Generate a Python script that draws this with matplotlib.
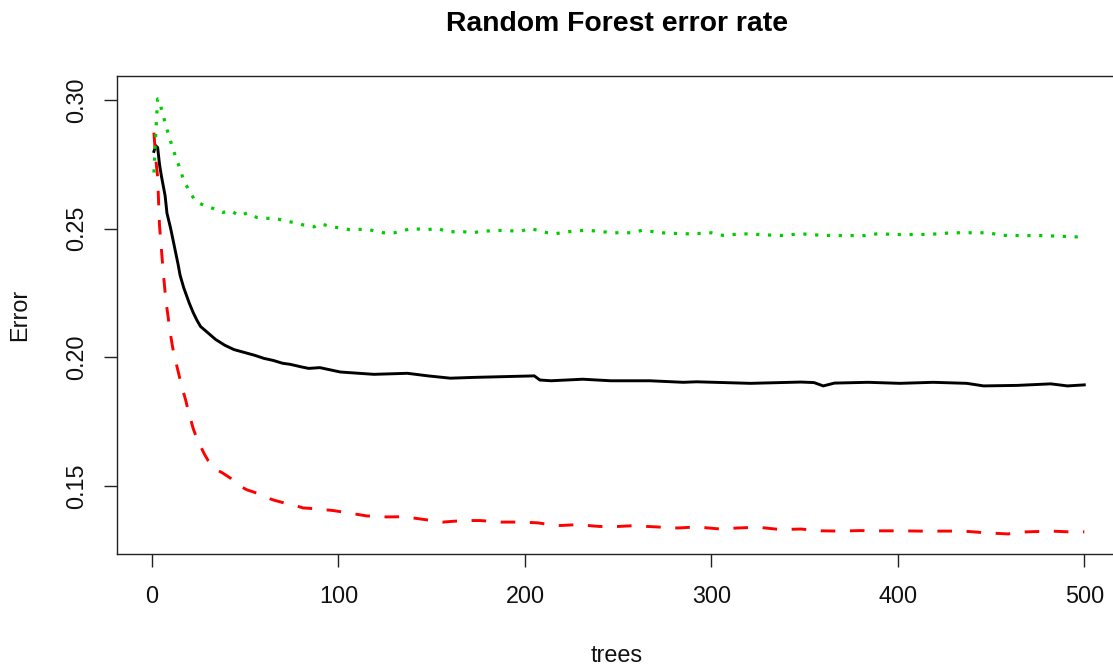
import matplotlib
matplotlib.use("Agg")
import matplotlib.pyplot as plt

# ---- data ----
trees_oob = [1, 2, 3, 4, 5, 7, 8, 10, 12, 14, 15, 17, 20, 22, 24, 26, 30, 34, 39, 44,
             49, 55, 60, 65, 70, 74, 80, 84, 90, 101, 119, 137, 148, 160, 172, 205,
             208, 214, 231, 246, 267, 285, 292, 321, 348, 355, 360, 366, 384, 401,
             419, 437, 446, 464, 482, 491, 500]
err_oob = [0.2800, 0.2822, 0.2815, 0.2750, 0.2705, 0.2628, 0.2560, 0.2500, 0.2430,
           0.2360, 0.2320, 0.2270, 0.2210, 0.2175, 0.2145, 0.2120, 0.2095, 0.2070,
           0.2047, 0.2030, 0.2020, 0.2008, 0.1996, 0.1988, 0.1977, 0.1973, 0.1963,
           0.1957, 0.1960, 0.1943, 0.1934, 0.1938, 0.1928, 0.1919, 0.1922, 0.1928,
           0.1912, 0.1909, 0.1915, 0.1909, 0.1909, 0.1903, 0.1905, 0.1899, 0.1904,
           0.1902, 0.1889, 0.1900, 0.1903, 0.1899, 0.1903, 0.1899, 0.1889, 0.1891,
           0.1897, 0.1889, 0.1893]

trees_c1 = [1, 2, 3, 4, 5, 6, 7, 8, 9, 10, 11, 12, 14, 15, 16, 18, 19, 22, 24, 28, 30,
            35, 38, 42, 46, 51, 56, 60, 65, 71, 76, 81, 87, 97, 106, 115, 126, 135,
            146, 156, 167, 176, 187, 198, 207, 217, 228, 240, 250, 258, 271, 282,
            292, 305, 314, 325, 337, 348, 359, 369, 380, 390, 401, 412, 424, 435,
            448, 459, 469, 482, 492, 500]
err_c1 = [0.2873, 0.2770, 0.2700, 0.2512, 0.2422, 0.2331, 0.2253, 0.2190, 0.2137,
          0.2085, 0.2040, 0.2005, 0.1945, 0.1915, 0.1885, 0.1835, 0.1805, 0.1725,
          0.1685, 0.1625, 0.1600, 0.1562, 0.1550, 0.1531, 0.1504, 0.1485, 0.1473,
          0.1459, 0.1446, 0.1434, 0.1426, 0.1415, 0.1412, 0.1405, 0.1395, 0.1384,
          0.1380, 0.1381, 0.1370, 0.1360, 0.1366, 0.1366, 0.1360, 0.1360, 0.1357,
          0.1346, 0.1350, 0.1343, 0.1343, 0.1346, 0.1341, 0.1337, 0.1341, 0.1333,
          0.1337, 0.1340, 0.1331, 0.1333, 0.1326, 0.1325, 0.1327, 0.1326, 0.1326,
          0.1325, 0.1325, 0.1325, 0.1318, 0.1314, 0.1322, 0.1325, 0.1322, 0.1322]

trees_c2 = [1, 2, 3, 4, 5, 7, 9, 11, 13, 15, 17, 20, 23, 28, 33, 38, 42, 47, 51, 56,
            61, 66, 71, 75, 80, 87, 90, 97, 106, 115, 124, 130, 139, 148, 153, 158,
            167, 172, 177, 187, 198, 202, 207, 212, 216, 223, 233, 239, 247, 258,
            263, 273, 285, 290, 300, 306, 317, 326, 337, 348, 359, 371, 382, 389,
            401, 412, 423, 428, 444, 449, 455, 466, 478, 489, 494, 500]
err_c2 = [0.2718, 0.2870, 0.3004, 0.3000, 0.2965, 0.2912, 0.2860, 0.2815, 0.2771,
          0.2733, 0.2686, 0.2647, 0.2609, 0.2589, 0.2578, 0.2563, 0.2570, 0.2550,
          0.2561, 0.2544, 0.2540, 0.2540, 0.2531, 0.2525, 0.2516, 0.2507, 0.2519,
          0.2507, 0.2496, 0.2498, 0.2484, 0.2484, 0.2500, 0.2496, 0.2502, 0.2488,
          0.2488, 0.2484, 0.2490, 0.2493, 0.2490, 0.2500, 0.2494, 0.2484, 0.2480,
          0.2488, 0.2494, 0.2490, 0.2484, 0.2484, 0.2494, 0.2484, 0.2480, 0.2480,
          0.2484, 0.2474, 0.2480, 0.2477, 0.2473, 0.2480, 0.2474, 0.2473, 0.2473,
          0.2480, 0.2477, 0.2477, 0.2480, 0.2484, 0.2484, 0.2484, 0.2474, 0.2473,
          0.2473, 0.2470, 0.2467, 0.2470]

x_ticks = [0, 100, 200, 300, 400, 500]
y_ticks = [0.15, 0.20, 0.25, 0.30]
y_tick_labels = ["0.15", "0.20", "0.25", "0.30"]

title = "Random Forest error rate"
xlabel = "trees"
ylabel = "Error"

# ---- figure ----
plt.rcParams['font.family'] = ['Liberation Sans', 'DejaVu Sans']
W, H = 1113, 667
fig = plt.figure(figsize=(W / 100, H / 100), dpi=100)
ax_left, ax_right, ax_top, ax_bottom = 116.7, 1121.5, 76, 554
ax = fig.add_axes([ax_left / W, 1 - ax_bottom / H,
                   (ax_right - ax_left) / W, (ax_bottom - ax_top) / H])

lw = 2.1
ax.plot(trees_oob, err_oob, color='black', lw=lw, solid_joinstyle='miter')
l1, = ax.plot(trees_c1, err_c1, color='#FF0000', lw=lw, dash_capstyle='butt')
l1.set_dashes([5.0, 5.0])
l2, = ax.plot(trees_c2, err_c2, color='#00CD00', lw=lw + 0.2, dash_capstyle='butt')
l2.set_dashes([1.0, 2.7])

ax.set_xlim(-18.96, 519.96)
ax.set_ylim(0.1236, 0.3093)

ax.set_xticks(x_ticks)
ax.set_xticklabels([str(v) for v in x_ticks])
ax.set_yticks(y_ticks)
ax.set_yticklabels(y_tick_labels, rotation=90, va='center')

fs = 16.8
ax.tick_params(axis='both', direction='out', length=9.5, width=1.0,
               colors='#222222', labelcolor='#111111', labelsize=fs)
ax.tick_params(axis='x', pad=13)
ax.tick_params(axis='y', pad=11)
for s in ax.spines.values():
    s.set_linewidth(1.0)
    s.set_color('#222222')

fig.text(617 / W, 1 - 31 / H, title, ha='center', va='baseline',
         fontsize=20.4, fontweight='bold', color='black')
fig.text(617 / W, 1 - 662 / H, xlabel, ha='center', va='baseline',
         fontsize=fs, color='#111111')
fig.text(20 / W, 1 - 315 / H, ylabel, ha='center', va='center',
         rotation=90, fontsize=fs, color='#111111')

fig.savefig("out.png", dpi=100)
